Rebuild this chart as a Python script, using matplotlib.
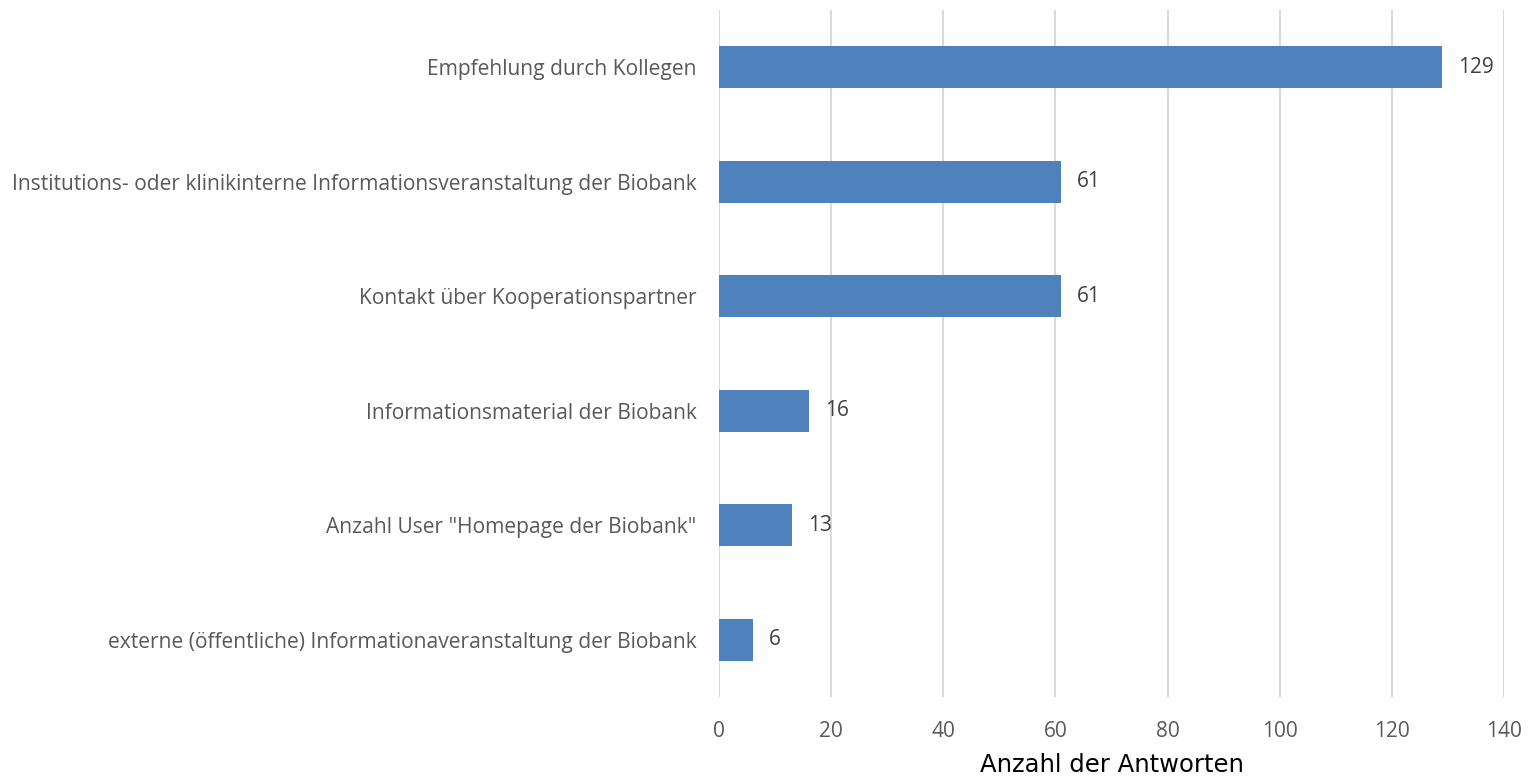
import matplotlib
matplotlib.use("Agg")
import matplotlib.pyplot as plt

categories = [
    "Empfehlung durch Kollegen",
    "Institutions- oder klinikinterne Informationsveranstaltung der Biobank",
    "Kontakt über Kooperationspartner",
    "Informationsmaterial der Biobank",
    'Anzahl User "Homepage der Biobank"',
    "externe (öffentliche) Informationaveranstaltung der Biobank",
]
values = [129, 61, 61, 16, 13, 6]
xticks = [0, 20, 40, 60, 80, 100, 120, 140]

plt.rcParams['font.family'] = ['Open Sans', 'DejaVu Sans']

fig = plt.figure(figsize=(15.29, 7.79), dpi=100)
ax = fig.add_axes([0.4702, 0.1053, 0.9837 - 0.4702, 0.9872 - 0.1053])

ypos = list(range(len(categories)))
ax.barh(ypos, values, height=0.367, color="#4f81bd", zorder=3)
for y, v in zip(ypos, values):
    ax.annotate(str(v), (v, y), xytext=(11.5, 0), textcoords="offset points",
                va="center", ha="left", fontsize=15, color="#404040")

ax.set_ylim(len(categories) - 0.5, -0.5)
ax.set_xlim(0, 140)
ax.set_yticks(ypos)
ax.set_yticklabels(categories, fontsize=15.1, color="#595959")
ax.set_xticks(xticks)
ax.set_xticklabels([str(t) for t in xticks], fontsize=15, color="#595959")
ax.tick_params(axis="both", length=0)
ax.tick_params(axis="y", pad=16)
ax.tick_params(axis="x", pad=17)
ax.grid(axis="x", color="#d9d9d9", linewidth=1.5, zorder=0)
for s in ax.spines.values():
    s.set_visible(False)
ax.set_xlabel("Anzahl der Antworten", fontsize=17.5, color="#000000",
              labelpad=8, family=["DejaVu Sans"])

fig.savefig("out.png", dpi=100)
